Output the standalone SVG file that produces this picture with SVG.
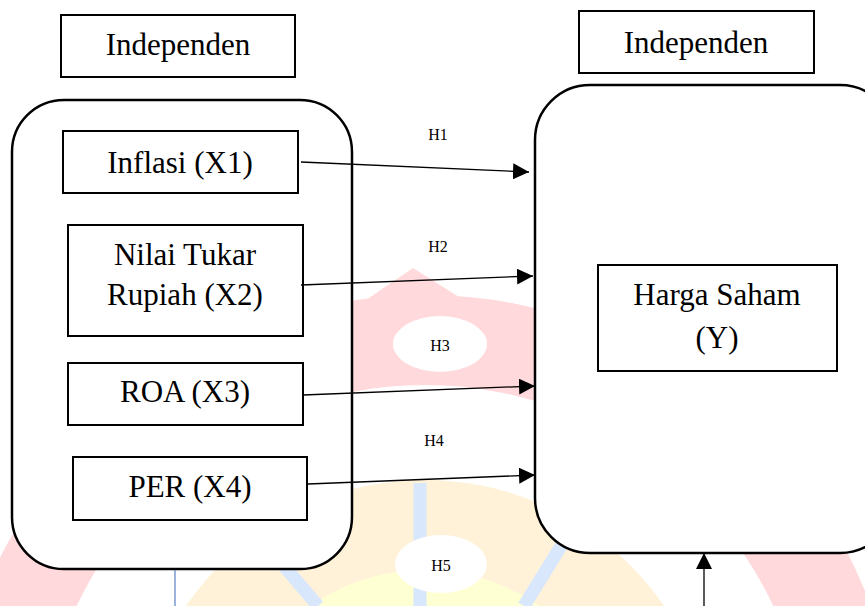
<svg xmlns="http://www.w3.org/2000/svg" width="865" height="606" viewBox="0 0 865 606">
<defs>
<style>
.box{fill:#fff;stroke:#000;stroke-width:2}
.group{fill:#fff;stroke:#000;stroke-width:2.5}
.t{font-family:"Liberation Serif","Times New Roman",serif;font-size:31px;fill:#000;text-anchor:middle}
.h{font-family:"Liberation Serif","Times New Roman",serif;font-size:16px;fill:#000;text-anchor:middle}
.conn{stroke:#000;stroke-width:1.3;fill:none;marker-end:url(#arr)}
.wm{stroke:none}
</style>
<marker id="arr" viewBox="0 0 16 16" refX="16" refY="8" markerWidth="16" markerHeight="16" markerUnits="userSpaceOnUse" orient="auto">
<path d="M0,0 L16,8 L0,16 Z" fill="#000"/>
</marker>
<clipPath id="wmclip"><rect x="0" y="0" width="865" height="606"/></clipPath>
</defs>
<rect width="865" height="606" fill="#fff"/>
<g id="watermark" clip-path="url(#wmclip)">
<circle class="wm" cx="425" cy="770" r="475" fill="#ffd9dc"/>
<polygon class="wm" points="363,302 413,268 467,302" fill="#ffd9dc"/>
<circle class="wm" cx="425" cy="770" r="385" fill="#fff"/>
<circle class="wm" cx="425" cy="770" r="290" fill="#fff2d9"/>
<circle class="wm" cx="425" cy="770" r="200" fill="#ffffd4"/>
<line x1="420" y1="483" x2="420" y2="606" stroke="#d8e7fc" stroke-width="13"/>
<line x1="272" y1="552" x2="318" y2="606" stroke="#d8e7fc" stroke-width="13"/>
<line x1="566" y1="538" x2="524" y2="606" stroke="#d8e7fc" stroke-width="13"/>
</g>
<g id="left-group"><rect class="group" x="12" y="100" width="340" height="469" rx="52"/></g>
<g id="right-group"><rect class="group" x="535" y="85" width="360" height="468" rx="55"/></g>
<g id="hdr-left"><rect class="box" x="61" y="15" width="234" height="62"/><text class="t" x="178" y="55">Independen</text></g>
<g id="hdr-right"><rect class="box" x="579" y="11" width="235" height="62"/><text class="t" x="696" y="53">Independen</text></g>
<g id="x1"><rect class="box" x="63" y="131" width="235" height="62"/><text class="t" x="180" y="173">Inflasi (X1)</text></g>
<g id="x2"><rect class="box" x="68" y="225" width="235" height="111"/><text class="t" x="185" y="265">Nilai Tukar</text><text class="t" x="185" y="305">Rupiah (X2)</text></g>
<g id="x3"><rect class="box" x="68" y="363" width="235" height="62"/><text class="t" x="185" y="402">ROA (X3)</text></g>
<g id="x4"><rect class="box" x="73" y="457" width="234" height="63"/><text class="t" x="190" y="497">PER (X4)</text></g>
<g id="y"><rect class="box" x="598" y="265" width="239" height="106"/><text class="t" x="717" y="305">Harga Saham</text><text class="t" x="717" y="348">(Y)</text></g>
<g id="connectors">
<line class="conn" x1="301" y1="162" x2="529" y2="172"/>
<line class="conn" x1="301" y1="285" x2="533" y2="276"/>
<line class="conn" x1="303" y1="395" x2="535" y2="386"/>
<line class="conn" x1="308" y1="484" x2="535" y2="475"/>
<line class="conn" x1="704" y1="606" x2="704" y2="553"/>
<line x1="175" y1="570" x2="175" y2="606" stroke="#5b7fc4" stroke-width="1.2"/>
</g>
<g id="labels">
<text class="h" x="438" y="140">H1</text>
<text class="h" x="438" y="252">H2</text>
<g id="h3"><ellipse cx="440" cy="344" rx="47" ry="28" fill="#fff"/><text class="h" x="440" y="351">H3</text></g>
<g id="h4"><ellipse cx="436" cy="433" rx="42" ry="28" fill="#fff"/><text class="h" x="434" y="446">H4</text></g>
<g id="h5"><ellipse cx="441" cy="564" rx="46" ry="29" fill="#fff"/><text class="h" x="441" y="571">H5</text></g>
</g>
</svg>
